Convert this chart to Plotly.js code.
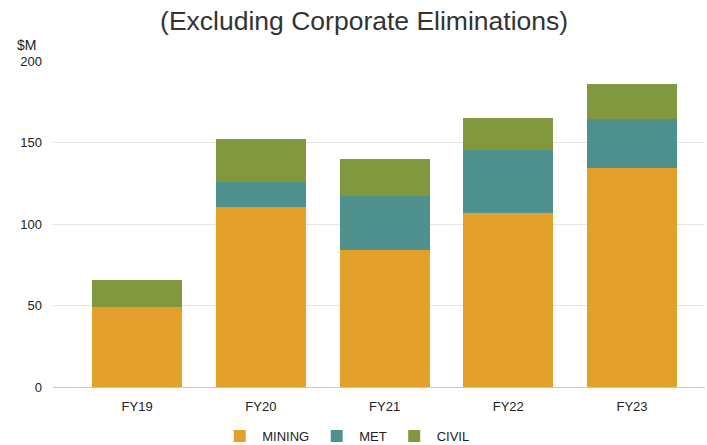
<!DOCTYPE html>
<html>
<head>
<meta charset="utf-8">
<script src="https://cdn.plot.ly/plotly-3.0.1.min.js"></script>
<style>
  html, body { margin: 0; padding: 0; background: #fff; }
  #plotArea { width: 707px; height: 445px; }
</style>
</head>
<body>
<div id="plotArea"></div>
<script>
// revenue by segment, $M
var years = ["FY19", "FY20", "FY21", "FY22", "FY23"];
var mining = [48.9, 110.4, 84.2, 106.5, 134.3];
var met = [0, 15.3, 33.1, 38.6, 30.0];
var civil = [17.0, 26.3, 22.7, 20.0, 21.6];

var font = "Liberation Sans, Arial, sans-serif";

var trace1 = {x: years, y: mining, name: "MINING", type: "bar", marker: {color: "#E3A02B"}};
var trace2 = {x: years, y: met, name: "MET", type: "bar", marker: {color: "#4F928D"}};
var trace3 = {x: years, y: civil, name: "CIVIL", type: "bar", marker: {color: "#82983F"}};

var data = [trace1, trace2, trace3];

var layout = {
    width: 707,
    height: 445,
    barmode: "stack",
    bargap: 0.273,
    margin: {l: 53, r: 2, t: 61, b: 57.5, autoexpand: false},
    paper_bgcolor: "#fff",
    plot_bgcolor: "#fff",
    font: {family: font, size: 13, color: "#222"},
    title: {
        text: "(Excluding Corporate Eliminations)",
        font: {family: font, size: 26.5, color: "#333"},
        x: 0.515, xanchor: "center",
        yref: "container", y: 0.953, yanchor: "middle"
    },
    xaxis: {
        range: [-0.68, 4.59],
        showgrid: false,
        showline: false,
        zeroline: false,
        ticks: "",
        ticklabelstandoff: 10,
        tickfont: {size: 13, color: "#222"}
    },
    yaxis: {
        range: [0, 200],
        tickvals: [0, 50, 100, 150, 200],
        gridcolor: "#e6e6e6",
        zeroline: true,
        zerolinecolor: "#c8c8c8",
        zerolinewidth: 1,
        ticks: "",
        ticklabelstandoff: 10,
        tickfont: {size: 13, color: "#222"}
    },
    showlegend: true,
    legend: {
        orientation: "h",
        xref: "paper", x: 0.449, xanchor: "center",
        yref: "container", y: 0.02, yanchor: "middle",
        font: {size: 13, color: "#222"},
        traceorder: "normal",
        itemwidth: 35
    },
    annotations: [{
        text: "$M",
        xref: "paper", yref: "paper",
        x: -0.04, y: 1.05,
        xanchor: "center", yanchor: "middle",
        showarrow: false,
        font: {size: 14, color: "#222"}
    }]
};

Plotly.newPlot("plotArea", data, layout, {displayModeBar: false});
</script>
</body>
</html>
